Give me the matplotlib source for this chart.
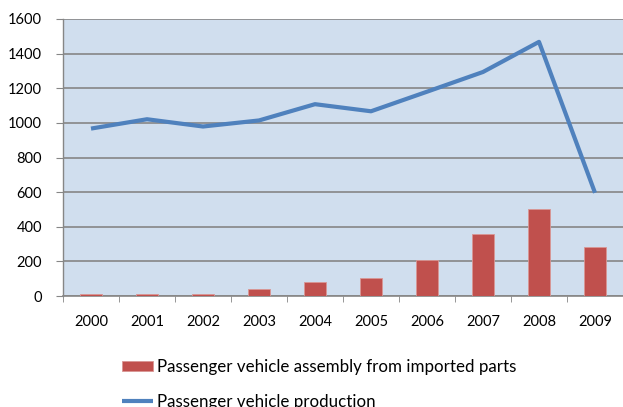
import matplotlib
matplotlib.use("Agg")
import matplotlib.pyplot as plt
import numpy as np

years = ["2000", "2001", "2002", "2003", "2004", "2005", "2006", "2007", "2008", "2009"]
assembly_imported = [10, 10, 10, 38, 79, 106, 208, 358, 500, 281]
production = [967, 1021, 979, 1014, 1108, 1067, 1180, 1294, 1468, 596]
y_ticks = [0, 200, 400, 600, 800, 1000, 1200, 1400, 1600]

bar_color = "#C0504D"
line_color = "#4F81BD"
bg_color = "#D0DEEE"
grid_color = "#868686"

plt.rcParams["font.family"] = ["Lato", "DejaVu Sans"]

W, H = 623, 407
fig = plt.figure(figsize=(W / 100, H / 100), dpi=100)
left, right, top, bottom = 63, 623, 19, 296
ax = fig.add_axes([left / W, 1 - bottom / H, (right - left) / W, (bottom - top) / H])
ax.set_facecolor(bg_color)

x = np.arange(len(years))
bars = ax.bar(x, assembly_imported, width=0.41, color=bar_color, edgecolor="#D99694",
              linewidth=0.6, zorder=3, label="Passenger vehicle assembly from imported parts")
line, = ax.plot(x, production, color=line_color, linewidth=3, zorder=4,
                solid_capstyle="butt", label="Passenger vehicle production")

ax.set_xlim(-0.5, len(years) - 0.5)
ax.set_ylim(0, 1600)
ax.set_yticks(y_ticks)
ax.set_yticklabels([str(v) for v in y_ticks])
ax.set_xticks(x)
ax.set_xticklabels(years)
ax.set_xticks(np.arange(-0.5, len(years) + 0.5, 1), minor=True)

ax.yaxis.grid(True, color=grid_color, linewidth=1.2, zorder=1)
ax.set_axisbelow(True)

for s in ["top", "right"]:
    ax.spines[s].set_visible(False)
ax.spines["left"].set_color(grid_color)
ax.spines["bottom"].set_color(grid_color)
ax.spines["left"].set_linewidth(1.0)
ax.spines["bottom"].set_linewidth(1.2)

ax.tick_params(axis="y", length=5, color=grid_color, labelsize=10.5, pad=10, labelcolor="#000000")
ax.tick_params(axis="x", which="major", length=0, labelsize=10.5, pad=14)
ax.tick_params(axis="x", which="minor", length=4, color=grid_color)

fig.legend(handles=[bars, line], loc="upper left", bbox_to_anchor=(122 / W, 1 - 359 / H),
           frameon=False, fontsize=12.2, handlelength=1.85, handleheight=0.6,
           handletextpad=0.2, labelspacing=1.1, borderaxespad=0, borderpad=0)

fig.savefig("out.png", dpi=100)
